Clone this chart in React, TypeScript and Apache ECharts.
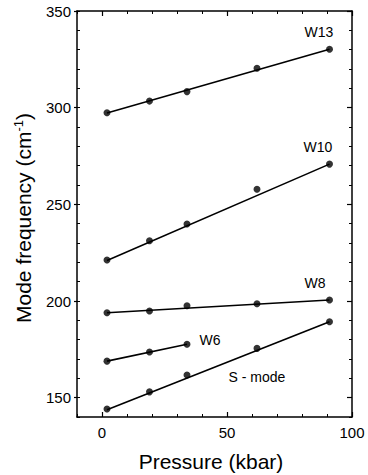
import React, { useEffect, useRef } from "react";
import * as echarts from "echarts";

// Pressure (kbar) at which the modes were measured
const pressures = [2, 19, 34, 62, 91];
const pressuresW6 = [2, 19, 34];

// Measured mode frequencies (cm^-1)
const w13 = [297.4, 303.4, 308.3, 320.4, 330.2];
const w10 = [221.2, 231.2, 239.8, 257.8, 270.8];
const w8 = [193.9, 194.8, 197.5, 198.6, 200.5];
const w6 = [168.9, 173.6, 177.6];
const sMode = [144.1, 153.0, 161.7, 175.5, 189.3];

// Straight fitted lines: [pressure, frequency] end points
const fitPressures = [2, 91];
const fitPressuresW6 = [2, 34];
const w13Fit = [297.2, 330.2];
const w10Fit = [221.0, 270.8];
const w8Fit = [193.9, 200.5];
const w6Fit = [168.9, 177.6];
const sModeFit = [143.8, 189.3];

const seriesNames = ["W13", "W10", "W8", "W6", "S - mode"];

const xTickMajor = [0, 50, 100];
const yTickMajor = [150, 200, 250, 300, 350];

const FONT = "'Liberation Sans', Arial, Helvetica, sans-serif";

export default function App() {
  const ref = useRef<HTMLDivElement>(null);

  useEffect(() => {
    if (!ref.current) return;
    const chart = echarts.init(ref.current, undefined, { renderer: "svg" });

    const pts = (xs: number[], ys: number[]) => xs.map((x, i) => [x, ys[i]]);

    const pointSets = [
      pts(pressures, w13),
      pts(pressures, w10),
      pts(pressures, w8),
      pts(pressuresW6, w6),
      pts(pressures, sMode),
    ];
    const fitSets = [
      pts(fitPressures, w13Fit),
      pts(fitPressures, w10Fit),
      pts(fitPressures, w8Fit),
      pts(fitPressuresW6, w6Fit),
      pts(fitPressures, sModeFit),
    ];

    const series: any[] = [];
    fitSets.forEach((d, i) => {
      series.push({
        name: seriesNames[i] + " fit",
        type: "line",
        data: d,
        showSymbol: false,
        symbol: "none",
        lineStyle: { color: "#000", width: 1.6 },
        xAxisIndex: 0,
        yAxisIndex: 0,
        silent: true,
      });
    });
    pointSets.forEach((d, i) => {
      series.push({
        name: seriesNames[i],
        type: "scatter",
        data: d,
        symbol: "circle",
        symbolSize: 7,
        itemStyle: { color: "#000" },
        xAxisIndex: 0,
        yAxisIndex: 0,
      });
    });

    const axisLine = { show: true, onZero: false, lineStyle: { color: "#000", width: 1.5 } };
    const noLine = { show: false, onZero: false };
    const baseX = { type: "value", min: -10, max: 100, interval: 10, splitLine: { show: false } };
    const baseY = { type: "value", min: 140, max: 350, interval: 10, splitLine: { show: false } };
    const minorTick = { show: true, inside: true, length: 3, lineStyle: { color: "#000", width: 1 } };

    chart.setOption({
      animation: false,
      backgroundColor: "#fff",
      grid: { left: 77, right: 16, top: 11, bottom: 58, containLabel: false },
      xAxis: [
        {
          ...baseX,
          position: "bottom",
          axisLine,
          axisTick: minorTick,
          axisLabel: {
            show: true,
            margin: 8,
            fontSize: 15,
            fontFamily: FONT,
            color: "#000",
            formatter: (v: number) => (v % 50 === 0 && v >= 0 ? String(v) : ""),
          },
        },
        {
          ...baseX,
          position: "top",
          axisLine,
          axisTick: minorTick,
          axisLabel: { show: false },
        },
        {
          ...baseX,
          position: "bottom",
          axisLine: noLine,
          axisTick: { show: true, inside: true, length: 5, customValues: xTickMajor, lineStyle: { color: "#000", width: 1.2 } },
          axisLabel: { show: false },
        },
        {
          ...baseX,
          position: "top",
          axisLine: noLine,
          axisTick: { show: true, inside: true, length: 5, customValues: xTickMajor, lineStyle: { color: "#000", width: 1.2 } },
          axisLabel: { show: false },
        },
      ],
      yAxis: [
        {
          ...baseY,
          position: "left",
          axisLine,
          axisTick: minorTick,
          axisLabel: {
            show: true,
            margin: 6,
            fontSize: 15,
            fontFamily: FONT,
            color: "#000",
            formatter: (v: number) => (v % 50 === 0 ? String(v) : ""),
          },
        },
        {
          ...baseY,
          position: "right",
          axisLine,
          axisTick: minorTick,
          axisLabel: { show: false },
        },
        {
          ...baseY,
          position: "left",
          axisLine: noLine,
          axisTick: { show: true, inside: false, length: 3, customValues: yTickMajor, lineStyle: { color: "#000", width: 1.2 } },
          axisLabel: { show: false },
        },
        {
          ...baseY,
          position: "right",
          axisLine: noLine,
          axisTick: { show: true, inside: true, length: 5, customValues: yTickMajor, lineStyle: { color: "#000", width: 1.2 } },
          axisLabel: { show: false },
        },
      ],
      series,
      graphic: [
        {
          type: "text",
          x: 23,
          y: 218,
          rotation: Math.PI / 2,
          style: {
            text: "{a|Mode frequency (cm}{s|-1}{a|)}",
            align: "center",
            verticalAlign: "middle",
            rich: {
              a: { fontSize: 21, fontFamily: FONT, fill: "#000" },
              s: { fontSize: 13, fontFamily: FONT, fill: "#000", verticalAlign: "top", padding: [0, 0, 10, 0] },
            },
          },
        },
        {
          type: "text",
          x: 211,
          y: 461,
          style: {
            text: "Pressure (kbar)",
            align: "center",
            verticalAlign: "middle",
            fontSize: 21,
            fontFamily: FONT,
            fill: "#000",
          },
        },
        { type: "text", x: 319, y: 32, style: { text: seriesNames[0], align: "center", verticalAlign: "middle", fontSize: 14, fontFamily: FONT, fill: "#000" } },
        { type: "text", x: 318, y: 147, style: { text: seriesNames[1], align: "center", verticalAlign: "middle", fontSize: 14, fontFamily: FONT, fill: "#000" } },
        { type: "text", x: 315, y: 283, style: { text: seriesNames[2], align: "center", verticalAlign: "middle", fontSize: 14, fontFamily: FONT, fill: "#000" } },
        { type: "text", x: 210, y: 340, style: { text: seriesNames[3], align: "center", verticalAlign: "middle", fontSize: 14, fontFamily: FONT, fill: "#000" } },
        { type: "text", x: 257, y: 377, style: { text: seriesNames[4], align: "center", verticalAlign: "middle", fontSize: 14, fontFamily: FONT, fill: "#000" } },
      ],
    });

    return () => chart.dispose();
  }, []);

  return (
    <div
      ref={ref}
      style={{ position: "absolute", left: 0, top: 0, width: 368, height: 475 }}
    />
  );
}
